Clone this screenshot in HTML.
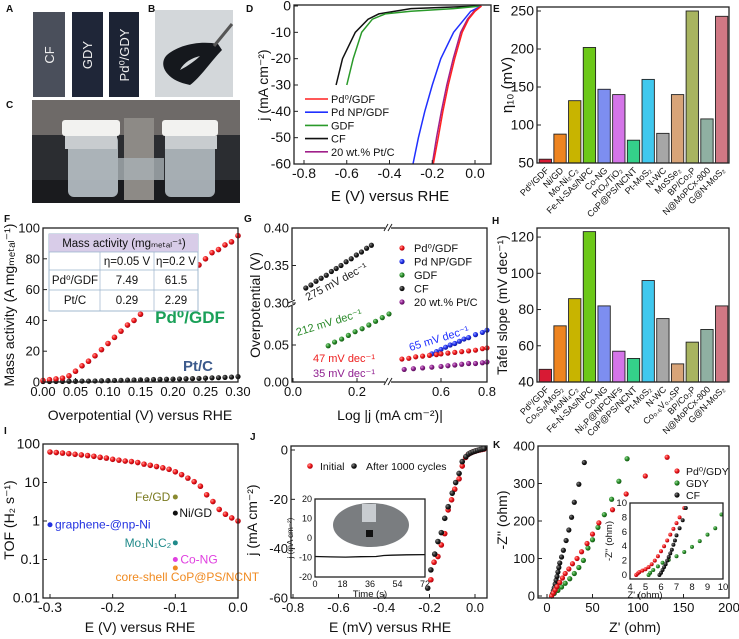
<!DOCTYPE html>
<html><head><meta charset="utf-8">
<style>
html,body{margin:0;padding:0;background:#fff;}
svg{display:block;font-family:"Liberation Sans","DejaVu Sans",sans-serif;}
</style></head>
<body>
<svg id="fig" width="739" height="639" viewBox="0 0 739 639" xmlns="http://www.w3.org/2000/svg">
<defs>
<radialGradient id="gred" cx="0.35" cy="0.35" r="0.7"><stop offset="0" stop-color="#ff9a9a"/><stop offset="0.5" stop-color="#f01818"/><stop offset="1" stop-color="#a00010"/></radialGradient>
<radialGradient id="gblack" cx="0.35" cy="0.35" r="0.7"><stop offset="0" stop-color="#888"/><stop offset="0.5" stop-color="#222"/><stop offset="1" stop-color="#000"/></radialGradient>
<radialGradient id="gblue" cx="0.35" cy="0.35" r="0.7"><stop offset="0" stop-color="#9aa8ff"/><stop offset="0.5" stop-color="#2030f0"/><stop offset="1" stop-color="#101890"/></radialGradient>
<radialGradient id="ggreen" cx="0.35" cy="0.35" r="0.7"><stop offset="0" stop-color="#9ad89a"/><stop offset="0.5" stop-color="#2a902a"/><stop offset="1" stop-color="#105010"/></radialGradient>
<radialGradient id="gpurple" cx="0.35" cy="0.35" r="0.7"><stop offset="0" stop-color="#d89ad8"/><stop offset="0.5" stop-color="#902090"/><stop offset="1" stop-color="#501050"/></radialGradient>
</defs>
</svg>
<script>
// ---------- DATA ----------
// D: LSV curves
const dRedE=[0.03,0.0,-0.03,-0.06,-0.095,-0.125,-0.15,-0.172,-0.195];
const dRedJ=[0,-2,-5,-10,-20,-30,-40,-50,-60];
const dPtE=[0.03,-0.005,-0.035,-0.067,-0.102,-0.132,-0.157,-0.18,-0.2];
const dPtJ=[0,-2,-5,-10,-20,-30,-40,-50,-60];
const dBlueE=[0.03,-0.02,-0.05,-0.1,-0.16,-0.2,-0.235,-0.265,-0.29];
const dBlueJ=[0,-2,-5,-10,-20,-30,-40,-50,-60];
const dGreenE=[0.03,-0.1,-0.3,-0.42,-0.48,-0.53,-0.57,-0.6];
const dGreenJ=[0,-1,-2,-3,-5,-10,-20,-30];
const dBlackE=[0.02,-0.3,-0.45,-0.5,-0.56,-0.62,-0.65];
const dBlackJ=[0,-1,-3,-5,-10,-20,-30];
const dTicksX=[-0.8,-0.6,-0.4,-0.2,0.0];
const dTicksY=[0,-10,-20,-30,-40,-50,-60];
// E: eta10 bars
const eCats=["Pd⁰/GDF","Ni/GD","Mo-Ni₂C₂","Fe-N-SAs/NPC","Co-NG","PtOₓ/TiO₂","CoP@PS/NCNT","Pt-MoS₂","N-WC","MoSSe₂","BP/Co₂P","N@MoPCx-800","G@N-MoS₂"];
const eVals=[55,88,132,202,147,140,80,160,89,140,250,108,243];
const eTicks=[50,100,150,200,250];
// F: mass activity
const fX=[0,0.01,0.02,0.03,0.04,0.05,0.06,0.07,0.08,0.09,0.10,0.11,0.12,0.13,0.14,0.15,0.16,0.17,0.18,0.19,0.20,0.21,0.22,0.23,0.24,0.25,0.26,0.27,0.28,0.29,0.30];
const fPd=[1,1.5,2,2.5,4,7,10.5,13.5,17,21,25,29,33,37,40,44,50,53,57,61,63,66,70,73,76,80,84,86,89,91,95];
const fPt=[0.3,0.3,0.4,0.4,0.5,0.5,0.6,0.6,0.7,0.8,0.9,1.0,1.1,1.2,1.3,1.4,1.5,1.6,1.7,1.8,1.9,2.0,2.1,2.2,2.3,2.5,2.7,2.8,3.0,3.2,3.5];
const fTicksX=[0,0.05,0.10,0.15,0.20,0.25,0.30];
const fTicksY=[0,20,40,60,80,100];
// G: Tafel
const gBlackX=[0.04,0.056,0.072,0.088,0.104,0.12,0.135,0.15,0.166,0.182,0.198,0.214,0.23,0.245];
const gBlackY=[0.32,0.324,0.329,0.333,0.337,0.342,0.346,0.350,0.355,0.359,0.364,0.368,0.373,0.377];
const gGreenX=[0.11,0.13,0.152,0.173,0.194,0.216,0.237,0.258,0.279,0.30];
const gGreenY=[0.049,0.054,0.058,0.063,0.068,0.072,0.077,0.082,0.087,0.092];
const gRedX=[0.43,0.46,0.49,0.52,0.55,0.58,0.6,0.63,0.66,0.69,0.72,0.75,0.78,0.8];
const gRedY=[0.031,0.032,0.034,0.035,0.036,0.037,0.038,0.039,0.040,0.041,0.042,0.043,0.045,0.046];
const gBlueX=[0.56,0.58,0.6,0.62,0.64,0.66,0.68,0.70,0.72,0.75,0.78,0.8];
const gBlueY=[0.038,0.041,0.044,0.047,0.050,0.052,0.055,0.058,0.060,0.064,0.067,0.070];
const gPurX=[0.44,0.48,0.52,0.56,0.60,0.63,0.66,0.69,0.72,0.75,0.78,0.8];
const gPurY=[0.017,0.018,0.019,0.020,0.021,0.022,0.023,0.024,0.025,0.025,0.026,0.027];
// H: Tafel bars
const hCats=["Pd⁰/GDF","Co₉S₈/MoS₂","MoNi₄C₂","Fe-N-SAs/NPC","Co-NG","Ni₂P@NPCNFs","CoP@PS/NCNT","Pt-MoS₂","N-WC","Co₀.₆V₀.₄SP","BP/Co₂P","N@MoPCx-800","G@N-MoS₂"];
const hVals=[47,71,86,123,82,57,53,96,75,50,62,69,82];
const hTicks=[40,60,80,100,120];
// I: TOF
const iX=[-0.3,-0.29,-0.28,-0.27,-0.26,-0.25,-0.24,-0.23,-0.22,-0.21,-0.2,-0.19,-0.18,-0.17,-0.16,-0.15,-0.14,-0.13,-0.12,-0.11,-0.1,-0.09,-0.08,-0.07,-0.06,-0.05,-0.04,-0.03,-0.02,-0.01,0.0];
const iY=[62,60,58,56,54,52,50,48,45,43,40,38,36,35,33,30,28,26,24,22,19,16,13,10.5,8,4.8,3.2,2,1.5,1.2,1.0];
const iRefNames=["graphene-@np-Ni","Fe/GD","Ni/GD","Mo₁N₁C₂","Co-NG","core-shell CoP@PS/NCNT"];
const iRefX=[-0.3,-0.1,-0.1,-0.1,-0.1,-0.1];
const iRefY=[0.8,4.2,1.6,0.27,0.1,0.06];
const iTicksX=[-0.3,-0.2,-0.1,0.0];
const iTicksY=[0.01,0.1,1,10,100];
// J: stability
const jInitE=[-0.194,-0.18,-0.163,-0.148,-0.133,-0.118,-0.103,-0.089,-0.07,-0.056,-0.041,-0.03,-0.02,-0.01,0,0.01,0.02,0.03,0.04];
const jInitJ=[-52.6,-45.5,-43.2,-38.5,-33.9,-24.3,-20.2,-15.9,-11.7,-6.5,-3,-1.8,-1.2,-0.8,-0.5,-0.2,0,0.2,0.4];
const jAftE=[-0.208,-0.194,-0.177,-0.163,-0.148,-0.133,-0.118,-0.1,-0.085,-0.07,-0.056,-0.04,-0.028,-0.018,-0.008,0.002,0.012,0.022,0.032,0.04];
const jAftJ=[-56,-48.6,-42.2,-37.1,-33.5,-27.7,-23,-17.5,-13.2,-9.5,-4.7,-2.7,-1.6,-1.1,-0.7,-0.4,-0.1,0.2,0.4,0.6];
const jTicksX=[-0.8,-0.6,-0.4,-0.2,0.0];
const jTicksY=[0,-20,-40,-60];
const jtT=[0,10,20,30,40,45,50,60,72];
const jtJ=[-9.5,-9.7,-9.8,-9.6,-9.5,-9.0,-8.8,-8.6,-8.5];
const jtTicksX=[0,18,36,54,72];
const jtTicksY=[20,10,0,-10,-20];
// K: EIS
const kRedX=[5,7,9,11,14,17,20,24,28,33,38,44,50,57,72,87,108,132];
const kRedY=[0,8,16,25,36,48,60,72,86,100,118,140,165,195,230,272,320,370];
const kGreenX=[5,8,12,16,20,25,30,35,40,45,50,56,63,71,79];
const kGreenY=[0,7,15,24,34,46,60,76,95,128,150,183,217,258,306];
const kGreenTopX=[88];
const kGreenTopY=[366];
const kBlackX=[5,6,7,8,9,10,11,12,13,14,16,18,21,24,27,30,35,41];
const kBlackY=[0,6,14,22,32,42,52,64,76,88,104,122,148,176,210,250,298,356];
const kTicksX=[0,50,100,150,200];
const kTicksY=[0,100,200,300,400];
const kiRedX=[4.4,4.5,4.6,4.8,5.0,5.2,5.4,5.6,5.8,6.0,6.2,6.4,6.6,6.8,7.0,7.2,7.5];
const kiRedY=[0,0.2,0.4,0.6,0.8,1.1,1.5,2.0,2.6,3.3,4.0,4.8,5.6,6.4,7.2,8.0,9.3];
const kiGreenX=[5.2,5.3,5.5,5.8,6.1,6.5,7.0,7.5,8.0,8.5,9.0,9.5,9.9];
const kiGreenY=[0,0.3,0.7,1.2,1.7,2.1,2.6,3.2,3.9,4.7,5.6,6.5,8.4];
const kiBlackX=[5.9,6.0,6.1,6.2,6.3,6.4,6.5,6.6,6.7,6.8,6.9,7.0,7.2,7.4,7.6];
const kiBlackY=[0,0.3,0.7,1.1,1.5,2.0,2.5,3.0,3.5,4.2,4.8,5.5,6.5,7.6,9.3];
const kiTicksX=[4,5,6,7,8,9,10];
const kiTicksY=[0,2,4,6,8,10];

// ---------- HELPERS ----------
const NS='http://www.w3.org/2000/svg';
const svg=document.getElementById('fig');
function el(tag,attrs,name,parent){
  const e=document.createElementNS(NS,tag);
  for(const k in attrs) e.setAttribute(k,attrs[k]);
  
  
  (parent||svg).appendChild(e);
  return e;
}
function txt(x,y,s,size,name,opt){
  opt=opt||{};
  const a={x:x,y:y,'font-size':size,fill:opt.fill||'#111','text-anchor':opt.anchor||'middle'};
  if(opt.rot!==undefined) a.transform='rotate('+opt.rot+' '+x+' '+y+')';
  if(opt.weight) a['font-weight']=opt.weight;
  if(opt.style) a['font-style']=opt.style;
  const t=el('text',a,name);
  t.textContent=s;
  return t;
}
function lin(d0,d1,r0,r1){return v=>r0+(v-d0)/(d1-d0)*(r1-r0);}
function frame(x0,y0,x1,y1,name,parent){
  return el('rect',{x:x0,y:y0,width:x1-x0,height:y1-y0,fill:'none',stroke:'#222','stroke-width':1.3},name,parent);
}
function xticks(vals,sx,yb,fmt,size,name,len){
  vals.forEach(v=>{
    const x=sx(v);
    el('line',{x1:x,y1:yb,x2:x,y2:yb-(len||4),stroke:'#222','stroke-width':1},name+'-tick');
    txt(x,yb+14,fmt(v),size,name+'-label');
  });
}
function yticks(vals,sy,xl,fmt,size,name,len){
  vals.forEach(v=>{
    const y=sy(v);
    el('line',{x1:xl,y1:y,x2:xl+(len||4),y2:y,stroke:'#222','stroke-width':1},name+'-tick');
    txt(xl-3,y+4.5,fmt(v),size,name+'-label',{anchor:'end'});
  });
}
function dot(x,y,r,grad,name){
  return el('circle',{cx:x,cy:y,r:r,fill:'url(#'+grad+')'},name);
}
function poly(xs,ys,sx,sy,color,name,w){
  const pts=xs.map((v,i)=>sx(v).toFixed(1)+','+sy(ys[i]).toFixed(1)).join(' ');
  return el('polyline',{points:pts,fill:'none',stroke:color,'stroke-width':w||1.5},name);
}
function letter(x,y,s){txt(x,y,s,10,'panel-label-'+s.toLowerCase(),{weight:'bold',anchor:'start'});}

// ---------- PANEL A/B/C photos ----------
letter(6,12,'A');letter(148,12,'B');letter(6,108,'C');
el('rect',{x:33,y:12,width:32,height:85,fill:'#4a4f5b'},'cf-sample-photo');
txt(54,55,'CF',13,'cf-sample-label',{fill:'#eee',rot:-90});
el('rect',{x:72,y:12,width:31,height:85,fill:'#1f2638'},'gdy-sample-photo');
txt(92,55,'GDY',13,'gdy-sample-label',{fill:'#eee',rot:-90});
el('rect',{x:109,y:12,width:30,height:85,fill:'#1c2334'},'pd-gdy-sample-photo');
txt(129,55,'Pd⁰/GDY',13,'pd-gdy-sample-label',{fill:'#eee',rot:-90});
el('rect',{x:155,y:10,width:78,height:87,fill:'#d3d7da'},'flexible-sample-photo');
el('path',{d:'M186 84 C168 80 158 66 166 56 C176 46 198 40 218 44 L222 50 C212 60 200 78 190 85 Z M180 70 C188 66 196 60 200 56 C192 58 184 62 180 70 Z',fill:'#15181d','fill-rule':'evenodd'},'bent-sample');
el('line',{x1:214,y1:46,x2:232,y2:24,stroke:'#555','stroke-width':3},'tweezers');
el('rect',{x:32,y:100,width:208,height:103,fill:'#2b2d31'},'cell-photo');
el('rect',{x:32,y:100,width:208,height:35,fill:'#6e6a68'},'cell-photo-background');
el('rect',{x:32,y:180,width:208,height:23,fill:'#1a1b1e'},'cell-photo-table');
el('rect',{x:68,y:135,width:50,height:62,rx:6,fill:'#b9c2c8',opacity:0.9},'left-cell-jar');
el('rect',{x:62,y:120,width:58,height:16,rx:3,fill:'#f2f2f0'},'left-cell-cap');
el('rect',{x:65,y:136,width:52,height:13,fill:'#c8cccf'},'left-cell-thread');
el('rect',{x:165,y:135,width:50,height:62,rx:6,fill:'#b4bcc2',opacity:0.9},'right-cell-jar');
el('rect',{x:162,y:120,width:56,height:16,rx:3,fill:'#f2f2f0'},'right-cell-cap');
el('rect',{x:165,y:136,width:52,height:13,fill:'#c8cccf'},'right-cell-thread');
el('rect',{x:124,y:118,width:30,height:82,fill:'#8d8a86'},'cell-clamp');
el('rect',{x:118,y:158,width:46,height:22,fill:'#a9b0b5',opacity:0.8},'cell-bridge');

// ---------- PANEL D ----------
letter(246,12,'D');
const xD=lin(-0.8,0,304,475), yD=lin(0,-60,6,164);
poly(dBlackE,dBlackJ,xD,yD,'#111','cf-lsv-curve');
poly(dGreenE,dGreenJ,xD,yD,'#2a9a2a','gdf-lsv-curve');
poly(dBlueE,dBlueJ,xD,yD,'#2030ff','pd-np-gdf-lsv-curve');
poly(dPtE,dPtJ,xD,yD,'#a0208a','pt-c-lsv-curve');
poly(dRedE,dRedJ,xD,yD,'#ff2020','pd0-gdf-lsv-curve');
frame(294,5,491,164,'lsv-plot-frame');
xticks(dTicksX,xD,164,v=>v.toFixed(1),14,'lsv-x-axis');
yticks(dTicksY,yD,294,v=>String(v),14,'lsv-y-axis');
txt(268,85,'j (mA cm⁻²)',14,'lsv-y-axis-title',{rot:-90});
txt(390,201,'E (V) versus RHE',15,'lsv-x-axis-title');
const dLeg=[['Pd⁰/GDF','#ff2020'],['Pd NP/GDF','#2030ff'],['GDF','#2a9a2a'],['CF','#111'],['20 wt.% Pt/C','#a0208a']];
dLeg.forEach((l,i)=>{const y=99+13.2*i;
  el('line',{x1:305,y1:y,x2:328,y2:y,stroke:l[1],'stroke-width':1.6},'lsv-legend-line');
  txt(331,y+4,l[0],11,'lsv-legend-entry',{anchor:'start'});});

// ---------- BAR HELPER ----------
const barColors=['#d81a34','#ee8420','#c8b400','#6cc818','#7d8ef0','#d475e8','#34d08a','#40c8ee','#a6a6a6','#d8a478','#a8b460','#8fb0a2','#d07884'];
function bars(cats,vals,x0,x1,sy,ybase,prefix){
  const band=(x1-x0)/cats.length;
  cats.forEach((c,i)=>{
    const cx=x0+band*(i+0.5);
    const y=sy(vals[i]);
    el('rect',{x:cx-band*0.42,y:y,width:band*0.84,height:ybase-y,fill:barColors[i],stroke:'#222','stroke-width':0.9},prefix+'-bar');
    txt(cx+4,ybase+8,c,9,prefix+'-category-label',{anchor:'end',rot:-45});
  });
}
// ---------- PANEL E ----------
letter(493,12,'E');
const yE=lin(50,250,163,11);
bars(eCats,eVals,538,729,yE,163,'eta10');
frame(537,7,729,163,'eta10-plot-frame');
yticks(eTicks,yE,537,v=>String(v),14,'eta10-y-axis');
txt(512,85,'η₁₀ (mV)',15,'eta10-y-axis-title',{rot:-90});

// ---------- PANEL F ----------
letter(4,222,'F');
const xF=lin(0,0.3,43,238), yF=lin(0,100,382,228);
fX.forEach((v,i)=>dot(xF(v),yF(fPt[i]),2.6,'gblack','pt-c-mass-point'));
fX.forEach((v,i)=>dot(xF(v),yF(fPd[i]),2.8,'gred','pd0-gdf-mass-point'));
frame(43,228,238,382,'mass-plot-frame');
xticks(fTicksX,xF,382,v=>v.toFixed(2),13,'mass-x-axis');
yticks(fTicksY,yF,43,v=>String(v),13,'mass-y-axis');
txt(14,305,'Mass activity (A mgₘₑₜₐₗ⁻¹)',14,'mass-y-axis-title',{rot:-90});
txt(140,420,'Overpotential (V) versus RHE',14,'mass-x-axis-title');
txt(190,323,'Pd⁰/GDF',17,'pd0-gdf-curve-label',{fill:'#1aa058',weight:'bold'});
txt(198,371,'Pt/C',15,'pt-c-curve-label',{fill:'#3c5a8c',weight:'bold'});
el('rect',{x:49,y:234,width:149,height:77,fill:'#fff',stroke:'#8aa8c4','stroke-width':0.8},'mass-activity-table');
el('rect',{x:49,y:234,width:149,height:18,fill:'#d8cce8'},'mass-table-header');
[252,270,290].forEach(y=>el('line',{x1:49,y1:y,x2:198,y2:y,stroke:'#9ab4cc','stroke-width':0.7},'mass-table-row-line'));
[100,154].forEach(x=>el('line',{x1:x,y1:252,x2:x,y2:311,stroke:'#9ab4cc','stroke-width':0.7},'mass-table-col-line'));
txt(124,247,'Mass activity (mgₘₑₜₐₗ⁻¹)',11.5,'mass-table-title');
txt(127,265,'η=0.05 V',11.5,'mass-table-col-head');
txt(176,265,'η=0.2 V',11.5,'mass-table-col-head');
txt(75,284,'Pd⁰/GDF',11.5,'mass-table-row-head');
txt(127,284,'7.49',11.5,'mass-table-cell');
txt(176,284,'61.5',11.5,'mass-table-cell');
txt(75,304,'Pt/C',11.5,'mass-table-row-head');
txt(127,304,'0.29',11.5,'mass-table-cell');
txt(176,304,'2.29',11.5,'mass-table-cell');

// ---------- PANEL G ----------
letter(244,222,'G');
const xG=v=> v<=0.33 ? 293+v*320 : 441+(v-0.6)*230;
const yG=v=> v>=0.29 ? 303-(v-0.3)*750 : 382-v*740;
gBlackX.forEach((v,i)=>dot(xG(v),yG(gBlackY[i]),2.6,'gblack','cf-tafel-point'));
gGreenX.forEach((v,i)=>dot(xG(v),yG(gGreenY[i]),2.6,'ggreen','gdf-tafel-point'));
gBlueX.forEach((v,i)=>dot(xG(v),yG(gBlueY[i]),2.6,'gblue','pd-np-gdf-tafel-point'));
gRedX.forEach((v,i)=>dot(xG(v),yG(gRedY[i]),2.6,'gred','pd0-gdf-tafel-point'));
gPurX.forEach((v,i)=>dot(xG(v),yG(gPurY[i]),2.6,'gpurple','pt-c-tafel-point'));
frame(292,228,487,382,'tafel-plot-frame');
[[388,228],[388,382]].forEach(p=>{el('rect',{x:p[0]-3,y:p[1]-3,width:6,height:6,fill:'#fff'},'axis-break-gap');
  el('path',{d:'M'+(p[0]-4)+' '+(p[1]+3)+' l4 -7 M'+(p[0])+' '+(p[1]+3)+' l4 -7',stroke:'#222','stroke-width':1,fill:'none'},'x-axis-break');});
el('rect',{x:289,y:300,width:6,height:6,fill:'#fff'},'axis-break-gap');
el('path',{d:'M288 303 l7 -3 M288 307 l7 -3',stroke:'#222','stroke-width':1,fill:'none'},'y-axis-break');
xticks([0.0,0.2,0.6,0.8],xG,382,v=>v.toFixed(1),13,'tafel-x-axis');
yticks([0.40,0.35,0.30,0.05,0.00],yG,292,v=>v.toFixed(2),13,'tafel-y-axis');
txt(260,305,'Overpotential (V)',14,'tafel-y-axis-title',{rot:-90});
txt(390,420,'Log |j (mA cm⁻²)|',14,'tafel-x-axis-title');
const gLeg=[['Pd⁰/GDF','gred'],['Pd NP/GDF','gblue'],['GDF','ggreen'],['CF','gblack'],['20 wt.% Pt/C','gpurple']];
gLeg.forEach((l,i)=>{const y=248+13.5*i;dot(402,y,2.6,l[1],'tafel-legend-marker');txt(414,y+4,l[0],11,'tafel-legend-entry',{anchor:'start'});});
txt(338,285,'275 mV dec⁻¹',11,'cf-tafel-slope-label',{fill:'#222',rot:-28});
txt(330,326,'212 mV dec⁻¹',11,'gdf-tafel-slope-label',{fill:'#2a8a2a',rot:-17});
txt(440,342,'65 mV dec⁻¹',11,'pd-np-tafel-slope-label',{fill:'#2030ff',rot:-17});
txt(344,362,'47 mV dec⁻¹',11,'pd0-tafel-slope-label',{fill:'#ee2020'});
txt(344,377,'35 mV dec⁻¹',11,'pt-c-tafel-slope-label',{fill:'#902090'});

// ---------- PANEL H ----------
letter(492,224,'H');
const yH=lin(40,125,382,228);
bars(hCats,hVals,538,729,yH,382,'tafel-slope');
frame(537,228,729,382,'tafel-slope-plot-frame');
yticks(hTicks,yH,537,v=>String(v),14,'tafel-slope-y-axis');
txt(507,305,'Tafel slope (mV dec⁻¹)',14,'tafel-slope-y-axis-title',{rot:-90});

// ---------- PANEL I ----------
letter(4,434,'I');
const xI=lin(-0.3,0,50,238), yI=v=>598-(Math.log10(v)+2)*38.5;
iX.forEach((v,i)=>dot(xI(v),yI(iY[i]),2.8,'gred','tof-point'));
const iCols=['#2030e0','#8a8a30','#111','#208a8a','#e040e0','#f08a20'];
iRefNames.forEach((n,i)=>{
  el('circle',{cx:xI(iRefX[i]),cy:yI(iRefY[i]),r:2.5,fill:iCols[i]},'tof-reference-point');
});
txt(xI(-0.3)+5,yI(0.8)+4,iRefNames[0],12,'tof-reference-label',{anchor:'start',fill:'#2030e0'});
txt(xI(-0.1)-5,yI(4.2)+4,iRefNames[1],12,'tof-reference-label',{anchor:'end',fill:'#7a7a20'});
txt(xI(-0.1)+4,yI(1.6)+4,iRefNames[2],12,'tof-reference-label',{anchor:'start',fill:'#111'});
txt(xI(-0.1)-4,yI(0.27)+4,iRefNames[3],12,'tof-reference-label',{anchor:'end',fill:'#208a8a'});
txt(xI(-0.1)+5,yI(0.1)+4,iRefNames[4],12,'tof-reference-label',{anchor:'start',fill:'#e040e0'});
txt(xI(-0.1)+12,yI(0.06)+13,iRefNames[5],12,'tof-reference-label',{fill:'#f08a20'});
frame(43,444,238,598,'tof-plot-frame');
xticks(iTicksX,xI,598,v=>v.toFixed(1),14,'tof-x-axis');
yticks(iTicksY,yI,43,v=>String(v),14,'tof-y-axis');
txt(14,520,'TOF (H₂ s⁻¹)',14,'tof-y-axis-title',{rot:-90});
txt(140,632,'E (V) versus RHE',14,'tof-x-axis-title');

// ---------- PANEL J ----------
letter(250,440,'J');
const xJ=lin(-0.8,0,293,475), yJ=lin(0,-60,450,598);
frame(291,446,487,598,'stability-plot-frame');
xticks(jTicksX,xJ,598,v=>v.toFixed(1),13,'stability-x-axis');
yticks(jTicksY,yJ,291,v=>String(v),13,'stability-y-axis');
txt(257,520,'j (mA cm⁻²)',14,'stability-y-axis-title',{rot:-90});
txt(390,632,'E (mV) versus RHE',14,'stability-x-axis-title');
dot(310,466,2.8,'gred','stability-legend-marker');txt(320,470,'Initial',10.5,'stability-legend-entry',{anchor:'start'});
dot(354,466,2.8,'gblack','stability-legend-marker');txt(366,470,'After 1000 cycles',10.5,'stability-legend-entry',{anchor:'start'});
const xJi=lin(0,72,315,425), yJi=lin(20,-20,499,577);
el('rect',{x:315,y:499,width:110,height:78,fill:'#fff'},'inset-background');
el('ellipse',{cx:371,cy:525,rx:38,ry:22,fill:'#7a7d80'},'inset-electrode-photo');
el('rect',{x:362,y:504,width:14,height:18,fill:'#c8ccd0'},'inset-electrode-holder');
el('rect',{x:366,y:530,width:7,height:7,fill:'#111'},'inset-electrode');
poly(jtT,jtJ,xJi,yJi,'#111','chronoamperometry-line',1.3);
frame(315,499,425,577,'inset-frame');
jtTicksX.forEach(v=>{txt(xJi(v),587,String(v),9,'inset-x-tick-label');});
jtTicksY.forEach(v=>{txt(312,yJi(v)+3,String(v),9,'inset-y-tick-label',{anchor:'end'});});
txt(370,597,'Time (s)',9.5,'inset-x-axis-title');
txt(293,538,'j (mA cm⁻²)',8,'inset-y-axis-title',{rot:-90});
jInitE.forEach((v,i)=>dot(xJ(v),yJ(jInitJ[i]),2.8,'gred','initial-lsv-point'));
jAftE.forEach((v,i)=>dot(xJ(v),yJ(jAftJ[i]),2.8,'gblack','after-cycles-lsv-point'));

// ---------- PANEL K ----------
letter(493,448,'K');
const xK=lin(0,200,547,729), yK=lin(0,400,596,446);
kBlackX.forEach((v,i)=>dot(xK(v),yK(kBlackY[i]),2.6,'gblack','cf-eis-point'));
kGreenX.forEach((v,i)=>dot(xK(v),yK(kGreenY[i]),2.6,'ggreen','gdy-eis-point'));
kGreenTopX.forEach((v,i)=>dot(xK(v),yK(kGreenTopY[i]),2.6,'ggreen','gdy-eis-point'));
kRedX.forEach((v,i)=>dot(xK(v),yK(kRedY[i]),2.6,'gred','pd0-gdy-eis-point'));
frame(538,446,729,598,'eis-plot-frame');
xticks(kTicksX,xK,598,v=>String(v),13,'eis-x-axis');
yticks(kTicksY,yK,538,v=>String(v),13,'eis-y-axis');
txt(507,520,"-Z'' (ohm)",14,'eis-y-axis-title',{rot:-90});
txt(635,632,"Z' (ohm)",14,'eis-x-axis-title');
[['Pd⁰/GDY','gred'],['GDY','ggreen'],['CF','gblack']].forEach((l,i)=>{const y=471+12*i;dot(677,y,2.6,l[1],'eis-legend-marker');txt(686,y+4,l[0],10.5,'eis-legend-entry',{anchor:'start'});});
const xKi=lin(4,10,630,723), yKi=lin(0,10,575,503);
el('rect',{x:630,y:503,width:93,height:76,fill:'#fff'},'eis-inset-background');
kiGreenX.forEach((v,i)=>dot(xKi(v),yKi(kiGreenY[i]),2,'ggreen','gdy-inset-point'));
kiRedX.forEach((v,i)=>dot(xKi(v),yKi(kiRedY[i]),2,'gred','pd0-gdy-inset-point'));
kiBlackX.forEach((v,i)=>dot(xKi(v),yKi(kiBlackY[i]),2,'gblack','cf-inset-point'));
frame(630,503,723,579,'eis-inset-frame');
kiTicksX.forEach(v=>txt(xKi(v),590,String(v),9.5,'eis-inset-x-tick-label'));
kiTicksY.forEach(v=>txt(627,yKi(v)+3,String(v),9.5,'eis-inset-y-tick-label',{anchor:'end'}));
txt(645,598,"Z' (ohm)",9.5,'eis-inset-x-axis-title');
txt(612,541,"-Z'' (ohm)",9.5,'eis-inset-y-axis-title',{rot:-90});
</script>
</body></html>
